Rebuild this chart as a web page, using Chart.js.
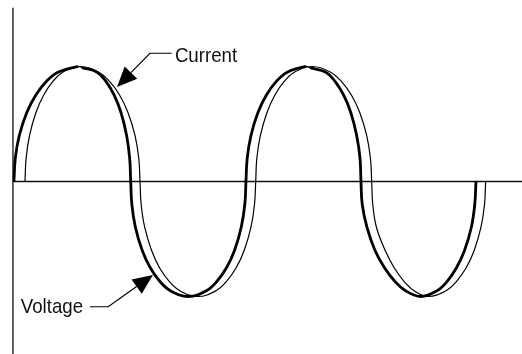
<!DOCTYPE html>
<html><head><meta charset="utf-8">
<script src="https://cdn.jsdelivr.net/npm/chart.js@4.4.1/dist/chart.umd.min.js"></script>
<style>html,body{margin:0;padding:0;background:#fff;overflow:hidden}#c{display:block}</style>
</head><body>
<canvas id="c" width="522" height="354"></canvas>
<script>
// Phase angle (degrees) and amplitude (% of peak)
const voltageDeg = [0,2.0,8.3,20.0,33.9,50.5,68.6,99.8,106.1,
  129.8,143.5,156.3,166.9,175.7,180.5,182.1,
  183.9,189.5,200.1,212.6,227.8,244.1,272.2,
  300.1,316.4,331.5,344.0,354.4,360.1,361.9,
  363.8,369.7,380.6,393.6,409.3,426.3,455.5,461.8,
  486.6,500.9,514.3,525.4,534.6,539.8,541.3,
  543.3,550.7,563.2,578.0,594.4,610.7,634.9,
  659.9,675.5,690.3,702.8,713.4,718.8,720.7];
const voltageAmp = [0,20,40,60,75,87,95,100,99,
  95,87,75,60,40,20,0,
  -20,-40,-60,-75,-87,-95,-100,
  -95,-87,-75,-60,-40,-20,0,
  20,40,60,75,87,95,100,99,
  95,87,75,60,40,20,0,
  -20,-40,-60,-75,-87,-95,-100,
  -95,-87,-75,-60,-40,-20,0];
const currentDeg = [17.2,18.9,24.3,34.3,46.2,60.7,76.1,103.0,
  132.1,149.1,164.9,177.8,188.8,194.7,196.6,
  198.4,204.0,214.7,227.1,242.4,258.8,287.0,
  315.1,331.3,346.6,359.1,369.6,375.2,377.1,
  378.8,384.4,394.7,406.8,421.5,437.4,464.9,
  493.9,510.7,526.5,539.4,550.2,556.1,558.0,
  559.7,565.5,579.1,593.1,608.7,624.3,645.8,
  673.9,690.1,705.4,717.9,728.4,734.0,735.8];
const currentAmp = [0,20,40,60,75,87,95,100,
  95,87,75,60,40,20,0,
  -20,-40,-60,-75,-87,-95,-100,
  -95,-87,-75,-60,-40,-20,0,
  20,40,60,75,87,95,100,
  95,87,75,60,40,20,0,
  -20,-40,-60,-75,-87,-95,-100,
  -95,-87,-75,-60,-40,-20,0];

const seriesNames = ['Voltage','Current'];
const seriesWidths = [2.8, 1.2];

// Callout labels and leader anchor points (in data units)
const calloutText = ['Current','Voltage'];
const calloutTextDeg = [251, 10.5];
const calloutTextAmp = [104.2, -114.6];
const calloutEndDeg = [246, 118.6];
const calloutEndAmp = [111.5, -108.9];
const calloutElbowDeg = [212, 147];
const calloutElbowAmp = [111.5, -108.9];
const calloutTipDeg = [160.7, 216.8];
const calloutTipAmp = [82.2, -81.3];

const toPts = (xs, ys) => xs.map((x, i) => ({x: x, y: ys[i]}));

const axesPlugin = {
  id: 'axesLines',
  beforeDatasetsDraw(chart) {
    const {ctx, chartArea, scales: {x, y}} = chart;
    const x0 = x.getPixelForValue(0);
    const y0 = y.getPixelForValue(0);
    ctx.save();
    ctx.strokeStyle = '#111';
    ctx.lineWidth = 1.3;
    ctx.beginPath();
    ctx.moveTo(x0 - 1, y0);
    ctx.lineTo(chartArea.right, y0);
    ctx.moveTo(x0 - 1, y.getPixelForValue(151));
    ctx.lineTo(x0 - 1, chartArea.bottom);
    ctx.stroke();
    ctx.restore();
  }
};

const calloutPlugin = {
  id: 'callouts',
  afterDatasetsDraw(chart) {
    const {ctx, scales: {x, y}} = chart;
    ctx.save();
    ctx.fillStyle = '#000';
    ctx.strokeStyle = '#000';
    for (let i = 0; i < calloutText.length; i++) {
      const ex = x.getPixelForValue(calloutEndDeg[i]), ey = y.getPixelForValue(calloutEndAmp[i]);
      const bx = x.getPixelForValue(calloutElbowDeg[i]), by = y.getPixelForValue(calloutElbowAmp[i]);
      const tx = x.getPixelForValue(calloutTipDeg[i]), ty = y.getPixelForValue(calloutTipAmp[i]);
      const dx = tx - bx, dy = ty - by, len = Math.hypot(dx, dy);
      const ux = dx / len, uy = dy / len;
      const headLen = 20, headHalf = 8.8;
      const hx = tx - ux * headLen, hy = ty - uy * headLen;
      ctx.lineWidth = 1.2;
      ctx.beginPath();
      ctx.moveTo(ex, ey);
      ctx.lineTo(bx, by);
      ctx.lineTo(hx, hy);
      ctx.stroke();
      ctx.beginPath();
      ctx.moveTo(tx, ty);
      ctx.lineTo(hx - uy * headHalf, hy + ux * headHalf);
      ctx.lineTo(hx + uy * headHalf, hy - ux * headHalf);
      ctx.closePath();
      ctx.fill();
      const lx = x.getPixelForValue(calloutTextDeg[i]), ly = y.getPixelForValue(calloutTextAmp[i]);
      ctx.save();
      ctx.translate(lx, ly);
      ctx.scale(1, 1.1);
      ctx.font = '18.7px "Liberation Sans", Arial, sans-serif';
      ctx.textAlign = 'left';
      ctx.textBaseline = 'alphabetic';
      ctx.fillStyle = '#111';
      ctx.fillText(calloutText[i], 0, 0);
      ctx.restore();
    }
    ctx.restore();
  }
};

const peakThin = ctx => (ctx.p0.parsed.y >= 99 && ctx.p1.parsed.y >= 99) ? 1.2 : undefined;

new Chart(document.getElementById('c'), {
  type: 'scatter',
  data: {
    datasets: [
      {label: seriesNames[0], data: toPts(voltageDeg, voltageAmp), showLine: true, borderColor: '#000', borderWidth: seriesWidths[0], pointRadius: 0, tension: 0.4, fill: false, segment: {borderWidth: peakThin}},
      {label: seriesNames[1], data: toPts(currentDeg, currentAmp), showLine: true, borderColor: '#000', borderWidth: seriesWidths[1], pointRadius: 0, tension: 0.4, fill: false}
    ]
  },
  options: {
    responsive: false,
    animation: false,
    devicePixelRatio: 1,
    layout: {padding: 0},
    plugins: {legend: {display: false}, tooltip: {enabled: false}, title: {display: false}},
    scales: {
      x: {type: 'linear', display: false, min: -21.8, max: 792.5},
      y: {type: 'linear', display: false, min: -150, max: 157.8}
    }
  },
  plugins: [axesPlugin, calloutPlugin]
});
</script>
</body></html>
